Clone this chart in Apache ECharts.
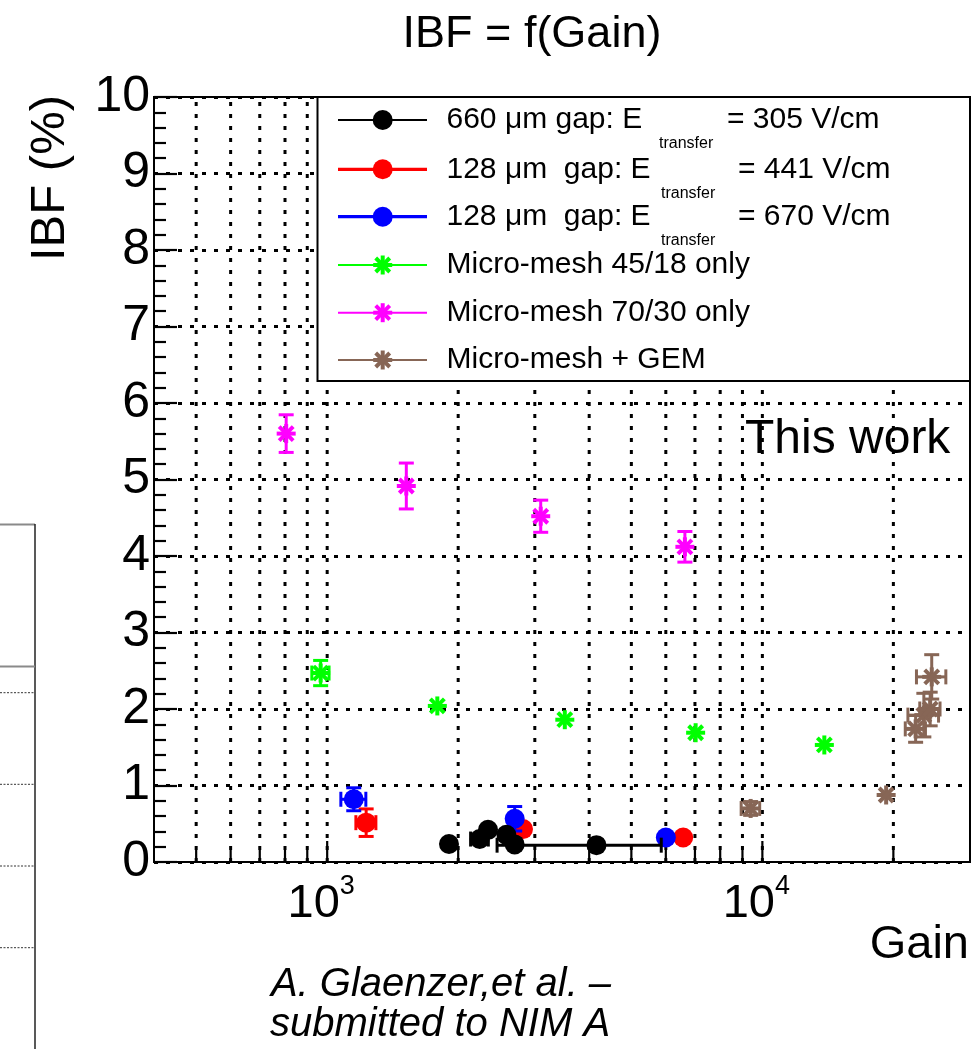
<!DOCTYPE html>
<html>
<head>
<meta charset="utf-8">
<script src="https://cdn.jsdelivr.net/npm/echarts@6/dist/echarts.min.js"></script>
<style>
  html, body { margin: 0; padding: 0; background: #fff; }
  #chart { width: 978px; height: 1049px; }
</style>
</head>
<body>
<div id="chart"></div>
<script>
// ---- axes ----
const gainMin = 400;
const gainMax = 30000;
const gainTicks = [500, 600, 700, 800, 900, 1000, 2000, 3000, 4000, 5000, 6000, 7000, 8000, 9000, 10000, 20000];
const gainMajorTicks = [1000, 10000];
const ibfMin = 0;
const ibfMax = 10;

// ---- 660 um gap, E_transfer = 305 V/cm ----
const gap660Gain    = [1905, 2241, 2342, 2581, 2697, 4157];
const gap660Ibf     = [0.235, 0.30, 0.42, 0.355, 0.23, 0.22];
const gap660GainErr = [0, 105, 0, 0, 0, 1700];
const gap660IbfErr  = [0, 0, 0, 0, 0, 0];

// ---- 128 um gap, E_transfer = 441 V/cm ----
const gap128aGain    = [1229, 2818, 6577];
const gap128aIbf     = [0.514, 0.43, 0.32];
const gap128aGainErr = [65, 0, 0];
const gap128aIbfErr  = [0.18, 0, 0];

// ---- 128 um gap, E_transfer = 670 V/cm ----
const gap128bGain    = [1151, 2697, 6001];
const gap128bIbf     = [0.82, 0.565, 0.32];
const gap128bGainErr = [76, 0, 0];
const gap128bIbfErr  = [0.15, 0.16, 0];

// ---- Micro-mesh 45/18 only ----
const mm4518Gain    = [966, 1791, 3516, 7025, 13880];
const mm4518Ibf     = [2.47, 2.04, 1.86, 1.69, 1.53];
const mm4518GainErr = [44, 0, 0, 0, 0];
const mm4518IbfErr  = [0.165, 0, 0, 0, 0];

// ---- Micro-mesh 70/30 only ----
const mm7030Gain    = [805, 1520, 3095, 6637];
const mm7030Ibf     = [5.60, 4.915, 4.52, 4.12];
const mm7030GainErr = [0, 0, 0, 0];
const mm7030IbfErr  = [0.246, 0.30, 0.21, 0.20];

// ---- Micro-mesh + GEM ----
const mmGemGain    = [9399, 19250, 22500, 23500, 24300, 24500];
const mmGemIbf     = [0.70, 0.876, 1.74, 1.92, 2.0, 2.42];
const mmGemGainErr = [460, 0, 1200, 1900, 1300, 1900];
const mmGemIbfErr  = [0.09, 0, 0.175, 0.285, 0.22, 0.29];

const FONT = '"Liberation Sans", Arial, Helvetica, sans-serif';
const GRID = { left: 154, top: 97, width: 816, height: 765 };

const COLORS = {
  black: '#000000',
  red: '#ff0000',
  blue: '#0000ff',
  green: '#00ff00',
  magenta: '#ff00ff',
  brown: '#876656'
};

function seg(x1, y1, x2, y2, color, w) {
  return { type: 'line', shape: { x1, y1, x2, y2 }, style: { stroke: color, lineWidth: w } };
}

function markerShapes(cx, cy, color, marker) {
  if (marker === 'circle') {
    return [{ type: 'circle', shape: { cx, cy, r: 10 }, style: { fill: color } }];
  }
  const h = 9.5, d = 7, w = 4;
  return [
    seg(cx - h, cy, cx + h, cy, color, w),
    seg(cx, cy - h, cx, cy + h, color, w),
    seg(cx - d, cy - d, cx + d, cy + d, color, w),
    seg(cx - d, cy + d, cx + d, cy - d, color, w)
  ];
}

// error bars with end caps, then the marker on top
function errorMarkerRenderer(color, marker) {
  return function (params, api) {
    const x = api.value(0), y = api.value(1), ex = api.value(2), ey = api.value(3);
    const c = api.coord([x, y]);
    const kids = [];
    const cap = 7.5, w = 3;
    if (ey > 0) {
      const t = api.coord([x, y + ey]), b = api.coord([x, y - ey]);
      kids.push(seg(c[0], t[1], c[0], b[1], color, w),
                seg(c[0] - cap, t[1], c[0] + cap, t[1], color, w),
                seg(c[0] - cap, b[1], c[0] + cap, b[1], color, w));
    }
    if (ex > 0) {
      const l = api.coord([x - ex, y]), r = api.coord([x + ex, y]);
      kids.push(seg(l[0], c[1], r[0], c[1], color, w),
                seg(l[0], c[1] - cap, l[0], c[1] + cap, color, w),
                seg(r[0], c[1] - cap, r[0], c[1] + cap, color, w));
    }
    kids.push.apply(kids, markerShapes(c[0], c[1], color, marker));
    return { type: 'group', children: kids };
  };
}

function rows(g, v, eg, ev) {
  return g.map((x, i) => [x, v[i], eg[i], ev[i]]);
}

function dataSeries(name, color, marker, g, v, eg, ev, z) {
  return {
    type: 'custom',
    name: name,
    z: z,
    dimensions: ['gain', 'ibf', 'gainErr', 'ibfErr'],
    encode: { x: 'gain', y: 'ibf' },
    data: rows(g, v, eg, ev),
    renderItem: errorMarkerRenderer(color, marker)
  };
}

// vertical dotted grid and the bottom ticks of the log gain axis
const gainGridSeries = {
  type: 'custom',
  name: 'gain grid',
  silent: true,
  z: 1,
  encode: { x: 0, y: 1 },
  data: gainTicks.map(v => [v, gainMajorTicks.indexOf(v) >= 0 ? 1 : 0]),
  renderItem: function (params, api) {
    const v = api.value(0);
    const b = api.coord([v, ibfMin]);
    const t = api.coord([v, ibfMax]);
    const len = api.value(1) ? 21 : 12;
    return {
      type: 'group',
      children: [
        { type: 'line', shape: { x1: b[0], y1: b[1], x2: t[0], y2: t[1] },
          style: { stroke: '#000', lineWidth: 3, lineDash: [4, 8] } },
        { type: 'line', shape: { x1: b[0], y1: b[1], x2: b[0], y2: b[1] - len },
          style: { stroke: '#000', lineWidth: 2.2 } }
      ]
    };
  }
};

// ---- legend box (drawn as graphics) ----
const legendRows = [
  { y: 120,   color: COLORS.black,   marker: 'circle', lw: 2,   text: '660 μm gap: E', sub: 'transfer', tail: '= 305 V/cm', subX: 659, tailX: 727 },
  { y: 169.3, color: COLORS.red,     marker: 'circle', lw: 3.2, text: '128 μm  gap: E', sub: 'transfer', tail: '= 441 V/cm', subX: 661, tailX: 738 },
  { y: 216.7, color: COLORS.blue,    marker: 'circle', lw: 3.2, text: '128 μm  gap: E', sub: 'transfer', tail: '= 670 V/cm', subX: 661, tailX: 738 },
  { y: 265,   color: COLORS.green,   marker: 'star',   lw: 2,   text: 'Micro-mesh 45/18 only' },
  { y: 312.7, color: COLORS.magenta, marker: 'star',   lw: 2,   text: 'Micro-mesh 70/30 only' },
  { y: 360,   color: COLORS.brown,   marker: 'star',   lw: 2,   text: 'Micro-mesh + GEM' }
];

const legendGraphics = [
  { type: 'rect', z: 100, shape: { x: 317.5, y: 97, width: 652.5, height: 284 },
    style: { fill: '#fff', stroke: '#000', lineWidth: 2 } }
];
legendRows.forEach(r => {
  legendGraphics.push(Object.assign(seg(338, r.y, 427, r.y, r.color, r.lw), { z: 101 }));
  markerShapes(382.7, r.y, r.color, r.marker).forEach(m => legendGraphics.push(Object.assign(m, { z: 102 })));
  legendGraphics.push({ type: 'text', z: 101, x: 446.5, y: r.y,
    style: { text: r.text, font: '30px ' + FONT, fill: '#000', align: 'left', verticalAlign: 'middle' } });
  if (r.sub) {
    legendGraphics.push({ type: 'text', z: 101, x: r.subX, y: r.y + 24,
      style: { text: r.sub, font: '16px ' + FONT, fill: '#000', align: 'left', verticalAlign: 'middle' } });
    legendGraphics.push({ type: 'text', z: 101, x: r.tailX, y: r.y,
      style: { text: r.tail, font: '30px ' + FONT, fill: '#000', align: 'left', verticalAlign: 'middle' } });
  }
});

// ---- leftover frame of the neighbouring panel at the left edge ----
const sidePanel = [
  seg(0, 524.5, 35, 524.5, '#8a8a8a', 2),
  seg(35, 524, 35, 1049, '#222', 1.5),
  seg(0, 666.5, 35, 666.5, '#8a8a8a', 2)
].concat([692.7, 784.3, 866, 947.7].map(y => ({
  type: 'line', shape: { x1: 0, y1: y, x2: 35, y2: y },
  style: { stroke: '#333', lineWidth: 1, lineDash: [2, 1.5] }
})));

const texts = [
  { type: 'text', z: 100, x: 532, y: 35,
    style: { text: 'IBF = f(Gain)', font: '45px ' + FONT, fill: '#000', align: 'center', verticalAlign: 'middle' } },
  { type: 'text', z: 100, x: 50, y: 178, rotation: Math.PI / 2,
    style: { text: 'IBF (%)', font: '49px ' + FONT, fill: '#000', align: 'center', verticalAlign: 'middle' } },
  { type: 'text', z: 100, x: 969, y: 945,
    style: { text: 'Gain', font: '47px ' + FONT, fill: '#000', align: 'right', verticalAlign: 'middle' } },
  { type: 'text', z: 100, x: 745, y: 440,
    style: { text: 'This work', font: '48px ' + FONT, fill: '#000', align: 'left', verticalAlign: 'middle' } },
  { type: 'text', z: 100, x: 441, y: 985,
    style: { text: 'A. Glaenzer,et al. –', font: 'italic 40px ' + FONT, fill: '#000', align: 'center', verticalAlign: 'middle' } },
  { type: 'text', z: 100, x: 440, y: 1025,
    style: { text: 'submitted to NIM A', font: 'italic 40px ' + FONT, fill: '#000', align: 'center', verticalAlign: 'middle' } }
];

const chart = echarts.init(document.getElementById('chart'), null, { renderer: 'canvas' });

chart.setOption({
  backgroundColor: '#fff',
  animation: false,
  textStyle: { fontFamily: FONT },
  grid: Object.assign({ show: true, borderColor: '#000', borderWidth: 2, backgroundColor: 'transparent' }, GRID),
  xAxis: {
    type: 'log',
    logBase: 10,
    min: gainMin,
    max: gainMax,
    axisLine: { show: true, lineStyle: { color: '#000', width: 2 } },
    axisTick: { show: false },
    minorTick: { show: false },
    splitLine: { show: false },
    axisLabel: {
      margin: 11,
      color: '#000',
      showMinLabel: false,
      showMaxLabel: false,
      formatter: function (v) {
        const p = Math.log10(v);
        if (Math.abs(p - Math.round(p)) < 1e-6 && gainMajorTicks.indexOf(Math.round(v)) >= 0) {
          return '{b|10}{s|' + Math.round(p) + '}';
        }
        return '';
      },
      rich: {
        b: { fontSize: 47, lineHeight: 47, fontFamily: FONT, color: '#000', padding: [8, 0, 0, 0], verticalAlign: 'top' },
        s: { fontSize: 27, lineHeight: 27, fontFamily: FONT, color: '#000', padding: [0, 12, 0, 0], verticalAlign: 'top' }
      }
    }
  },
  yAxis: {
    type: 'value',
    min: ibfMin,
    max: ibfMax,
    interval: 1,
    axisLine: { show: true, lineStyle: { color: '#000', width: 2 } },
    axisTick: { show: true, inside: true, length: 23, lineStyle: { color: '#000', width: 2.2 } },
    minorTick: { show: true, splitNumber: 5, length: 12, lineStyle: { color: '#000', width: 2.2 } },
    splitLine: { show: true, lineStyle: { color: '#000', width: 3, type: [4, 8] } },
    axisLabel: { color: '#000', fontSize: 50, fontFamily: FONT, margin: 4 }
  },
  graphic: sidePanel.concat(legendGraphics, texts),
  series: [
    gainGridSeries,
    dataSeries('128 μm gap: E_transfer = 441 V/cm', COLORS.red, 'circle', gap128aGain, gap128aIbf, gap128aGainErr, gap128aIbfErr, 3),
    dataSeries('128 μm gap: E_transfer = 670 V/cm', COLORS.blue, 'circle', gap128bGain, gap128bIbf, gap128bGainErr, gap128bIbfErr, 4),
    dataSeries('660 μm gap: E_transfer = 305 V/cm', COLORS.black, 'circle', gap660Gain, gap660Ibf, gap660GainErr, gap660IbfErr, 5),
    dataSeries('Micro-mesh 45/18 only', COLORS.green, 'star', mm4518Gain, mm4518Ibf, mm4518GainErr, mm4518IbfErr, 6),
    dataSeries('Micro-mesh 70/30 only', COLORS.magenta, 'star', mm7030Gain, mm7030Ibf, mm7030GainErr, mm7030IbfErr, 7),
    dataSeries('Micro-mesh + GEM', COLORS.brown, 'star', mmGemGain, mmGemIbf, mmGemGainErr, mmGemIbfErr, 8)
  ]
});
</script>
</body>
</html>
